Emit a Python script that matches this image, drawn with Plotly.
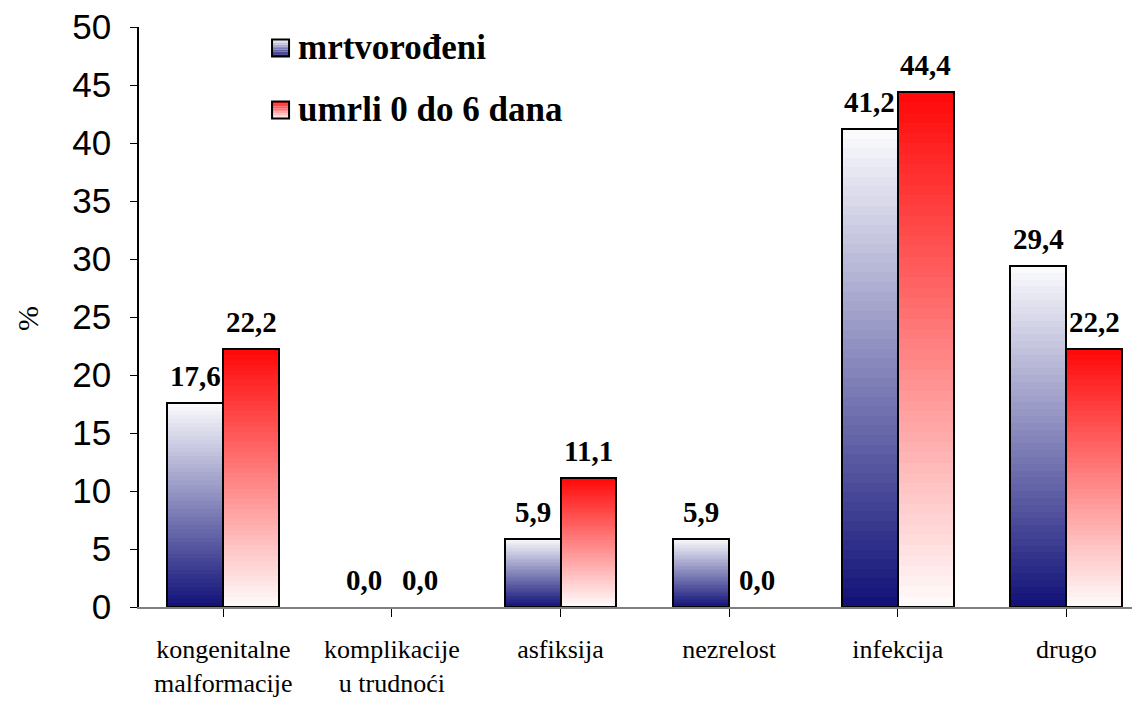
import plotly.graph_objects as go

categories = ["kongenitalne<br>malformacije", "komplikacije<br>u trudnoći", "asfiksija",
              "nezrelost", "infekcija", "drugo"]
series_names = ["mrtvorođeni", "umrli 0 do 6 dana"]
mrtvorodjeni = [17.6, 0.0, 5.9, 5.9, 41.2, 29.4]
umrli_0_6 = [22.2, 0.0, 11.1, 0.0, 44.4, 22.2]
y_ticks = [0, 5, 10, 15, 20, 25, 30, 35, 40, 45, 50]

SERIF = "Liberation Serif, Times New Roman, serif"
SANS = "Liberation Sans, Arial, sans-serif"

# gradient endpoints (bottom -> top)
blue_bottom, blue_top = (16, 16, 120), (252, 252, 254)
red_bottom, red_top = (255, 252, 252), (255, 8, 8)


def mix(c0, c1, t):
    return "rgb(%d,%d,%d)" % tuple(round(a + (b - a) * t) for a, b in zip(c0, c1))


def blue_t(t):
    return mix(blue_bottom, blue_top, t)


def red_t(t):
    return mix(red_bottom, red_top, t)


N = 50
W = 0.332
series = [
    (series_names[0], mrtvorodjeni, blue_t, -W),
    (series_names[1], umrli_0_6, red_t, 0.0),
]
x_idx = list(range(len(categories)))

fig = go.Figure()
for name, vals, cfun, off in series:
    for k in range(N):
        t = (k + 0.5) / N
        base = [v * k / N for v in vals]
        h = [min(v / N * 1.6, v - b) if k < N - 1 else v - b for v, b in zip(vals, base)]
        fig.add_trace(go.Bar(
            x=x_idx, y=h, base=base, width=W, offset=off,
            marker=dict(color=cfun(t), line=dict(width=0)),
            hoverinfo="skip", showlegend=False,
        ))
    # outline (zero-height bars are not drawn)
    fig.add_trace(go.Bar(
        x=x_idx, y=[v if v > 0 else None for v in vals], width=W, offset=off, name=name,
        marker=dict(color="rgba(0,0,0,0)", line=dict(color="black", width=2)),
        showlegend=False,
    ))

annotations = []
for name, vals, cfun, off in series:
    for i, v in enumerate(vals):
        annotations.append(dict(
            x=i + off + W / 2, y=v, xref="x", yref="y",
            text="<b>%s</b>" % ("%.1f" % v).replace(".", ","),
            showarrow=False, yanchor="bottom", xanchor="center", yshift=9,
            font=dict(family=SERIF, size=29, color="black"),
        ))

# y axis title
annotations.append(dict(
    x=-0.112, y=0.498, xref="paper", yref="paper", text="%", textangle=-90,
    xanchor="center", yanchor="middle",
    showarrow=False, font=dict(family=SERIF, size=30, color="black"),
))

# custom legend
shapes = []
legend_y = [0.9638, 0.8569]
sw_x0, sw_x1 = 0.1329, 0.1499
sw_h = 17 / 580
for (name, vals, cfun, off), yc in zip(series, legend_y):
    nseg = 10
    for s in range(nseg):
        y0 = yc - sw_h / 2 + sw_h * s / nseg
        y1 = yc - sw_h / 2 + sw_h * (s + 1) / nseg
        shapes.append(dict(type="rect", xref="paper", yref="paper",
                           x0=sw_x0, x1=sw_x1, y0=y0, y1=y1,
                           fillcolor=cfun((s + 0.5) / nseg), line=dict(width=0)))
    shapes.append(dict(type="rect", xref="paper", yref="paper",
                       x0=sw_x0, x1=sw_x1, y0=yc - sw_h / 2, y1=yc + sw_h / 2,
                       line=dict(color="black", width=2)))
    annotations.append(dict(
        x=0.1568, y=yc, xref="paper", yref="paper", xanchor="left", yanchor="middle",
        text="<b>%s</b>" % name, showarrow=False,
        font=dict(family=SERIF, size=35, color="black"),
    ))

# page body has an 8px margin; margins below compensate so the plot area
# spans x 139..1140 and y 27..607 in the window
fig.update_layout(
    width=1140, height=701,
    margin=dict(l=131, r=8, t=19, b=102),
    paper_bgcolor="white", plot_bgcolor="white",
    barmode="overlay", bargap=0,
    showlegend=False,
    annotations=annotations, shapes=shapes,
    xaxis=dict(
        tickmode="array", tickvals=x_idx, ticktext=categories,
        range=[-0.5, 5.437], showgrid=False, zeroline=False, automargin=False,
        showline=True, linecolor="#808080", linewidth=2,
        ticks="outside", ticklen=8, tickcolor="black", tickwidth=1,
        tickson="boundaries", ticklabelstandoff=10,
        tickfont=dict(family=SERIF, size=26, color="black"),
    ),
    yaxis=dict(
        range=[0, 50], tickvals=y_ticks, showgrid=False, zeroline=False, automargin=False,
        showline=True, linecolor="black", linewidth=1.5,
        ticks="outside", ticklen=7, tickcolor="black", tickwidth=1,
        ticklabelstandoff=12, ticklabeloverflow="allow",
        tickfont=dict(family=SANS, size=35, color="black"),
    ),
)

fig.write_html("out.html")
